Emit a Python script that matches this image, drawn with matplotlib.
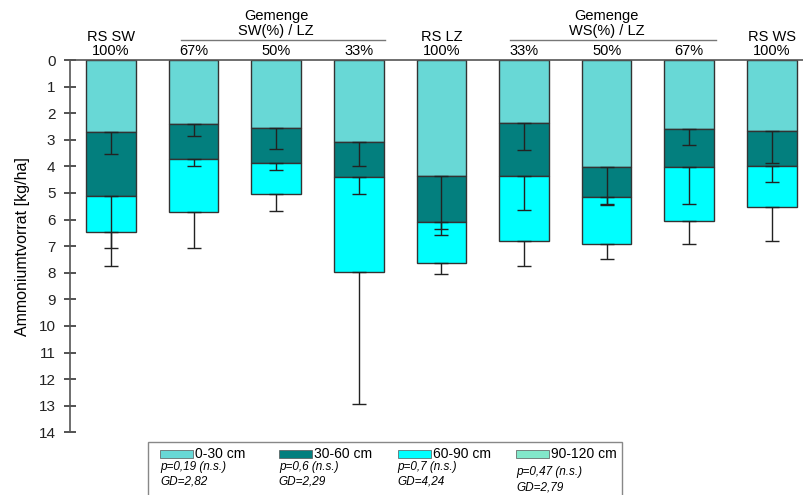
import matplotlib
matplotlib.use("Agg")
import matplotlib.pyplot as plt
from matplotlib.patches import Rectangle
import numpy as np

plt.rcParams['font.family'] = ['Liberation Sans', 'DejaVu Sans']

# treatments, left to right
groups = ["RS SW", "", "", "", "RS LZ", "", "", "", "RS WS"]
shares = ["100%", "67%", "50%", "33%", "100%", "33%", "50%", "67%", "100%"]

# layer stocks [kg/ha] (stacked downward)
l0_30 = [2.69, 2.41, 2.54, 3.10, 4.38, 2.37, 4.01, 2.59, 2.68]
l30_60 = [2.42, 1.32, 1.33, 1.30, 1.73, 1.99, 1.14, 1.44, 1.29]
l60_90 = [1.36, 1.99, 1.18, 3.58, 1.52, 2.45, 1.76, 2.03, 1.56]

# error (one-sided, downward)
e0_30 = [0.83, 0.44, 0.79, 0.90, 2.19, 1.02, 1.40, 0.59, 1.18]
e30_60 = [1.95, 0.24, 0.25, 0.63, 0.25, 1.27, 0.30, 1.37, 0.63]
e60_90 = [1.26, 1.35, 0.64, 4.95, 0.42, 0.93, 0.56, 0.86, 1.27]

layers = ["0-30 cm", "30-60 cm", "60-90 cm", "90-120 cm"]
colors = ["#68D8D6", "#037F7E", "#00FFFF", "#82E8CA"]
p_vals = ["0,19", "0,6", "0,7", "0,47"]
gd_vals = ["2,82", "2,29", "4,24", "2,79"]

fig = plt.figure(figsize=(8.04, 4.95), dpi=100)
ax = fig.add_axes([70 / 804, 1 - 432.3 / 495, 734 / 804, 372.3 / 495])

x = np.arange(len(shares))
w = 0.6
edge = "#333333"

bottom = np.zeros(len(x))
tops = []
for vals, col in zip([l0_30, l30_60, l60_90], colors):
    ax.bar(x, vals, w, bottom=bottom, color=col, edgecolor=edge, linewidth=1, zorder=2)
    bottom = bottom + np.array(vals)
    tops.append(bottom.copy())

for t, err in zip(tops, [e0_30, e30_60, e60_90]):
    ax.errorbar(x, t, yerr=[np.zeros(len(x)), err], fmt="none", ecolor="#222222",
                elinewidth=1, capsize=5, capthick=1, zorder=3)

ax.set_xlim(-0.497, 8.39)
ax.set_ylim(14, 0)
ax.set_yticks(range(0, 15))
ax.set_xticks([])
ax.tick_params(axis="y", direction="inout", length=9, width=1.3, color="#444444",
               labelsize=11, pad=6, labelcolor="#222222")
for s in ["right", "bottom"]:
    ax.spines[s].set_visible(False)
ax.spines["left"].set_color("#555555")
ax.spines["top"].set_color("#555555")
ax.spines["left"].set_linewidth(1.2)
ax.spines["top"].set_linewidth(1.2)
ax.set_ylabel("Ammoniumtvorrat [kg/ha]", fontsize=11.5, labelpad=6)

tr = ax.get_xaxis_transform()
for i in range(len(x)):
    ax.text(x[i], 1.024, shares[i], transform=tr, ha="center", va="center", fontsize=10.5)
    if groups[i]:
        ax.text(x[i], 1.062, groups[i], transform=tr, ha="center", va="center", fontsize=10.5)

for xc, lab, x0, x1 in [(2, "SW(%) / LZ", 0.85, 3.32), (6, "WS(%) / LZ", 4.83, 7.32)]:
    ax.text(xc, 1.118, "Gemenge", transform=tr, ha="center", va="center", fontsize=10.5)
    ax.text(xc, 1.078, lab, transform=tr, ha="center", va="center", fontsize=10.5)
    ax.plot([x0, x1], [1.054, 1.054], transform=tr, color="#777777", lw=1, clip_on=False)

# legend box
fig.add_artist(Rectangle((148 / 804, -0.05), (622 - 148) / 804, 0.05 + (495 - 442) / 495,
                         transform=fig.transFigure, fill=False, ec="#888888", lw=1))
for i in range(4):
    px = 160 + 118.8 * i
    dy = 5 if i == 3 else 0
    fig.add_artist(Rectangle((px / 804, 1 - 457.5 / 495), 33 / 804, 7.5 / 495,
                             transform=fig.transFigure, fc=colors[i], ec="#555555", lw=0.5))
    fig.text((px + 35) / 804, 1 - 453.5 / 495, layers[i], ha="left", va="center", fontsize=10)
    fig.text(px / 804, 1 - (467 + dy) / 495, "p=" + p_vals[i] + " (n.s.)", ha="left",
             va="center", fontsize=8.5, style="italic")
    fig.text(px / 804, 1 - (482 + dy) / 495, "GD=" + gd_vals[i], ha="left",
             va="center", fontsize=8.5, style="italic")

fig.savefig("out.png", dpi=100)
